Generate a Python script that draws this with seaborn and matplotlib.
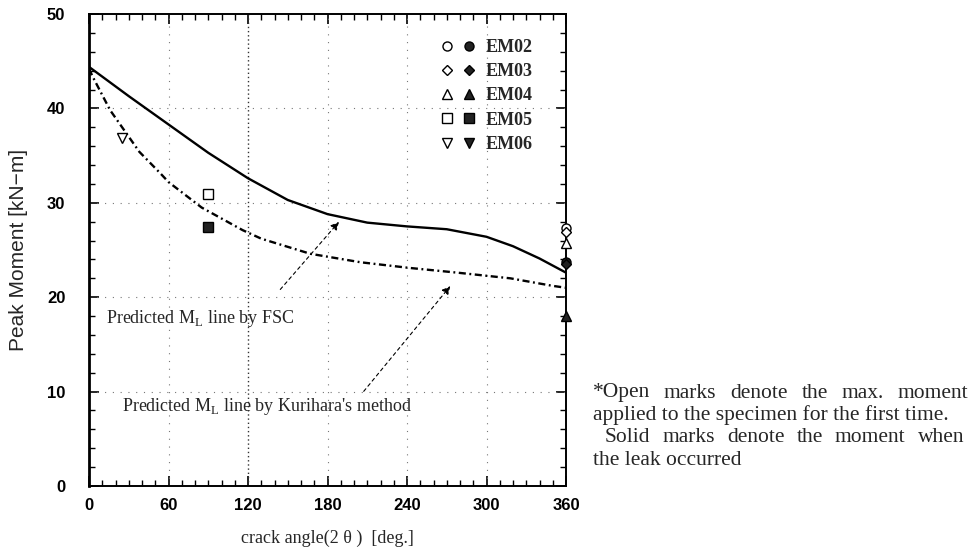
import numpy as np
import pandas as pd
import matplotlib
matplotlib.use("Agg")
import matplotlib.pyplot as plt
import seaborn as sns
from matplotlib.lines import Line2D
from matplotlib.legend_handler import HandlerTuple

# ---------------- data ----------------
fsc_angle = [0, 30, 60, 90, 120, 150, 180, 210, 240, 270, 300, 320, 340, 360]
fsc_moment = [44.4, 41.3, 38.3, 35.3, 32.6, 30.3, 28.8, 27.9, 27.5, 27.2, 26.4, 25.4, 24.1, 22.6]

kur_angle = [0, 3, 16, 38, 54, 60, 85, 116, 130, 167, 205, 242, 278, 318, 350, 360]
kur_moment = [44.2, 43.3, 39.8, 35.4, 33.1, 32.2, 29.5, 27.1, 26.2, 24.6, 23.7, 23.1, 22.6, 22.0, 21.2, 21.0]

specimens = ["EM02", "EM03", "EM04", "EM05", "EM06"]
spec_markers = ["o", "D", "^", "s", "v"]
spec_sizes = [6.5, 5.5, 6.5, 6.5, 7.5]
open_angle = [360, 360, 360, 90, 25]
open_moment = [27.3, 26.9, 25.7, 30.9, 36.9]
solid_angle = [360, 360, 360, 90, None]
solid_moment = [23.7, 23.5, 18.0, 27.4, None]

x_ticks = [0, 60, 120, 180, 240, 300, 360]
y_ticks = [0, 10, 20, 30, 40, 50]

note_lines = ["*Open marks denote the max. moment",
              "applied to the specimen for the first time.",
              "Solid marks denote the moment when",
              "the leak occurred"]
# (left px, right px or None for ragged) for each note line
note_extent = [(593, 968), (593, None), (605, 964), (593, None)]

# ---------------- figure ----------------
sns.set_theme(style="white")
plt.rcParams['font.family'] = ['Liberation Serif', 'DejaVu Serif']

W, H = 973, 548
fig = plt.figure(figsize=(W/100, H/100), dpi=100)
L, R, T, B = 89, 566, 14, 486
ax = fig.add_axes([L/W, 1-B/H, (R-L)/W, (B-T)/H])

fsc_df = pd.DataFrame({"angle": fsc_angle, "moment": fsc_moment})
kur_df = pd.DataFrame({"angle": kur_angle, "moment": kur_moment})

sns.lineplot(data=fsc_df, x="angle", y="moment", ax=ax, color="black", lw=1.7, zorder=3)
sns.lineplot(data=kur_df, x="angle", y="moment", ax=ax, color="black", lw=1.7, zorder=3)
ax.lines[-1].set_dashes([3, 1.5, 0.8, 1.5])

handles = []
for i, name in enumerate(specimens):
    m = spec_markers[i]
    ms = spec_sizes[i]
    ax.plot([open_angle[i]], [open_moment[i]], marker=m, ms=ms, mfc="white",
            mec="black", mew=1.0, ls="none", zorder=5, clip_on=False)
    if solid_angle[i] is not None:
        ax.plot([solid_angle[i]], [solid_moment[i]], marker=m, ms=ms, mfc="#222222",
                mec="black", mew=1.0, ls="none", zorder=5, clip_on=False)
    h1 = Line2D([], [], marker=m, ms=ms, mfc="white", mec="black", mew=1.0, ls="none")
    h2 = Line2D([], [], marker=m, ms=ms, mfc="#222222", mec="black", mew=1.0, ls="none")
    handles.append((h1, h2))

leg = ax.legend(handles, specimens, handler_map={tuple: HandlerTuple(ndivide=None, pad=0.5)},
                loc="upper right", bbox_to_anchor=(0.93, 0.947), frameon=False,
                borderpad=0, borderaxespad=0,
                handlelength=1.85, labelspacing=0.4, handletextpad=0.6,
                prop={"family": "Liberation Serif", "weight": "bold", "size": 13})

# grid (dotted)
for gx in [60, 180, 240, 300]:
    ax.axvline(gx, color="#777777", lw=0.8, ls=(0, (1, 6)), zorder=1)
ax.axvline(120, color="#333333", lw=1.0, ls=(0, (1, 2)), zorder=1)
for gy in [10, 20, 30, 40]:
    ax.axhline(gy, color="#777777", lw=0.8, ls=(0, (1, 6)), zorder=1)

ax.set_xlim(0, 360)
ax.set_ylim(0, 50)
ax.set_xticks(x_ticks)
ax.set_yticks(y_ticks)
ax.set_xticks(np.arange(0, 361, 10), minor=True)
ax.set_yticks(np.arange(0, 51, 2), minor=True)
ax.tick_params(which="both", direction="in", top=True, right=True, bottom=True, left=True,
               colors="black")
ax.tick_params(which="major", length=7, width=1.2)
ax.tick_params(which="minor", length=4, width=1.0)
ax.tick_params(axis="x", which="major", pad=9)
ax.tick_params(axis="y", which="major", pad=17)
for lab in ax.get_xticklabels() + ax.get_yticklabels():
    lab.set_family("Liberation Sans")
    lab.set_fontweight("bold")
    lab.set_fontsize(12)

for s in ax.spines.values():
    s.set_color("black")
    s.set_linewidth(1.4)
ax.spines["left"].set_linewidth(2.0)

ax.set_xlabel("crack angle(2 θ )  [deg.]", fontsize=13, labelpad=12)
ax.set_ylabel("Peak Moment [kN−m]", fontsize=15, labelpad=14,
              family="Liberation Sans")

# annotations
ax.text(13, 17.7, r"Predicted M$_\mathregular{L}$ line by FSC", fontsize=13,
        va="center", ha="left")
ax.text(25, 8.4, r"Predicted M$_\mathregular{L}$ line by Kurihara's method", fontsize=13,
        va="center", ha="left")
ax.annotate("", xy=(190, 28.2), xytext=(143, 20.6),
            arrowprops=dict(arrowstyle="-|>", color="black", lw=0.8, ls=(0, (3, 3)),
                            mutation_scale=12))
ax.annotate("", xy=(274, 21.4), xytext=(206, 9.8),
            arrowprops=dict(arrowstyle="-|>", color="black", lw=0.8, ls=(0, (3, 3)),
                            mutation_scale=12))

# note at right (justified lines, word by word)
fig.canvas.draw()
renderer = fig.canvas.get_renderer()
line_y0 = 393
line_step = 22.5
note_fs = 15.5
for k, t in enumerate(note_lines):
    ypx = line_y0 + k * line_step
    x0, x1 = note_extent[k]
    if x1 is None:
        fig.text(x0/W, 1 - ypx/H, t, fontsize=note_fs, va="center", ha="left")
        continue
    words = t.split(" ")
    objs = [fig.text(0, 1 - ypx/H, w_, fontsize=note_fs, va="center", ha="left") for w_ in words]
    widths = [o.get_window_extent(renderer).width for o in objs]
    gap = (x1 - x0 - sum(widths)) / (len(words) - 1)
    xc = x0
    for o, wd in zip(objs, widths):
        o.set_x(xc / W)
        xc += wd + gap

fig.savefig("out.png", dpi=100)
